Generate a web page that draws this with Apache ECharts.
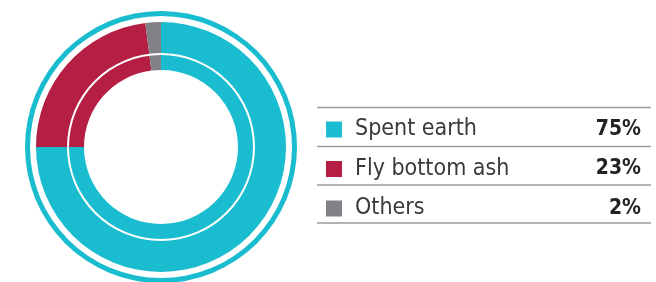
<!DOCTYPE html>
<html>
<head>
<meta charset="utf-8">
<script src="https://cdn.jsdelivr.net/npm/echarts@6/dist/echarts.min.js"></script>
<style>
  html, body { margin: 0; padding: 0; background: #fff; }
  #chart { width: 656px; height: 282px; }
</style>
</head>
<body>
<div id="chart"></div>
<script>
// 数据
var names = ['Spent earth', 'Fly bottom ash', 'Others'];
var values = [75, 23, 2];
var colors = ['#1abccf', '#b51f43', '#808285'];

var total = values.reduce(function (a, b) { return a + b; }, 0);

var chart = echarts.init(document.getElementById('chart'));

// 表格横线
var rowLines = [107.5, 146.5, 185, 223];
var graphics = rowLines.map(function (y) {
    return {
        type: 'line',
        shape: { x1: 317, y1: y, x2: 651, y2: y },
        style: { stroke: '#9a9a9a', lineWidth: 1.5 },
        silent: true
    };
});

var option = {
    color: colors,
    animation: false,
    legend: {
        orient: 'vertical',
        left: 326,
        top: 118,
        padding: 0,
        itemWidth: 16,
        itemHeight: 16,
        itemGap: 16.5,
        icon: 'rect',
        selectedMode: false,
        data: names,
        formatter: function (name) {
            var i = names.indexOf(name);
            var pct = Math.round(values[i] / total * 100) + '%';
            return '{s|}{n|' + name + '}{v|' + pct + '}';
        },
        textStyle: {
            lineHeight: 22,
            rich: {
                s: { width: 8, lineHeight: 22 },
                n: { width: 232, fontSize: 23, lineHeight: 22, color: '#3a3a3a', fontFamily: 'DejaVu Sans Condensed' },
                v: { width: 54, align: 'right', fontSize: 21, lineHeight: 22, fontWeight: 'bold', color: '#222', fontFamily: 'DejaVu Sans Condensed' }
            }
        }
    },
    graphic: graphics,
    series: [
        {
            // 外圈细环
            type: 'pie',
            center: [161, 147],
            radius: [131, 136],
            silent: true,
            label: { show: false },
            data: [{ value: 1, name: 'ring', itemStyle: { color: '#1abccf' } }]
        },
        {
            name: 'share',
            type: 'pie',
            center: [161, 147],
            radius: [77, 125],
            startAngle: 90,
            clockwise: true,
            label: { show: false },
            labelLine: { show: false },
            data: names.map(function (n, i) {
                return { name: n, value: values[i] };
            })
        },
        {
            // 内部白线
            type: 'pie',
            center: [161, 147],
            radius: [92, 94],
            silent: true,
            z: 3,
            label: { show: false },
            data: [{ value: 1, name: 'line', itemStyle: { color: '#ffffff' } }]
        }
    ]
};
chart.setOption(option);
</script>
</body>
</html>
